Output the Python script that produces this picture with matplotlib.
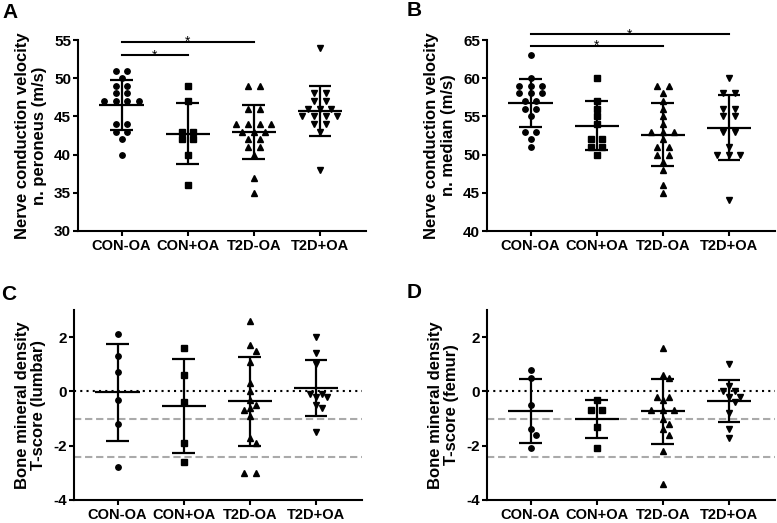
import numpy as np
import matplotlib
matplotlib.use("Agg")
import matplotlib.pyplot as plt

plt.rcParams['font.family'] = ['Liberation Sans', 'DejaVu Sans']
plt.rcParams['font.weight'] = 'bold'
plt.rcParams['axes.unicode_minus'] = False

# Data
groups = ['CON-OA', 'CON+OA', 'T2D-OA', 'T2D+OA']
markers = ['o', 's', '^', 'v']
marker_sizes = [3.9, 3.7, 4.3, 4.3]

# nerve conduction velocity, n. peroneus (m/s)
ncv_peroneus = [
    [51, 51, 50, 49, 49, 48, 48, 47, 47, 47, 47, 44, 44, 43, 43, 42, 40],
    [49, 47, 43, 43, 42, 42, 40, 36],
    [49, 49, 46, 46, 44, 44, 44, 44, 43, 43, 43, 42, 42, 41, 41, 40, 37, 35],
    [54, 48, 48, 47, 47, 46, 46, 46, 45, 45, 45, 45, 44, 44, 43, 38],
]
# nerve conduction velocity, n. median (m/s)
ncv_median = [
    [63, 60, 59, 59, 59, 58, 58, 58, 57, 57, 56, 56, 55, 53, 53, 52, 51],
    [60, 57, 56, 55, 54, 52, 52, 51, 51, 50],
    [59, 59, 58, 57, 56, 55, 54, 53, 53, 53, 52, 51, 51, 50, 50, 49, 48, 46, 45],
    [60, 58, 58, 56, 56, 55, 55, 53, 53, 51, 50, 50, 50, 44],
]
# BMD T-score lumbar
tscore_lumbar = [
    [2.1, 1.3, 0.7, -0.3, -1.2, -2.8],
    [1.6, 0.6, -0.4, -1.9, -2.6],
    [2.6, 1.7, 1.5, 1.1, 0.3, 0.0, -0.3, -0.5, -0.6, -0.7, -0.9, -1.7, -1.9, -3.0, -3.0],
    [2.0, 1.4, 1.0, -0.1, -0.1, -0.2, -0.2, -0.5, -0.6, -1.5],
]
# BMD T-score femur
tscore_femur = [
    [0.8, 0.5, -0.5, -1.4, -1.6, -2.1],
    [-0.3, -0.7, -0.7, -1.3, -2.1],
    [1.6, 0.6, 0.5, -0.2, -0.2, -0.3, -0.7, -0.7, -0.7, -1.0, -1.2, -1.4, -1.6, -2.2, -3.4],
    [1.0, 0.2, 0.0, 0.0, -0.2, -0.2, -0.4, -0.8, -1.4, -1.7],
]

sig_peroneus = [(0, 1), (0, 2)]
sig_median = [(0, 2), (0, 3)]
tscore_refs = [-1.0, -2.4]

fig = plt.figure(figsize=(7.77, 5.23), dpi=100)


def swarm_x(ax, pos, vals, step=0.177, diam=6.0):
    # spread points like a prism scatter: ties side by side, shift rows on overlap
    vals = np.asarray(vals, float)
    xs = np.full(len(vals), float(pos))
    placed = np.empty((0, 2))
    for v in np.unique(vals)[::-1]:
        idx = np.where(vals == v)[0]
        k = len(idx)
        base = (np.arange(k) - (k - 1) / 2) * step
        for n in range(40):
            shift = ((n + 1) // 2) * step / 2 * (1 if n % 2 else -1)
            cand = pos + base + shift
            pix = ax.transData.transform(np.column_stack([cand, np.full(k, v)]))
            if len(placed) == 0:
                break
            d = np.hypot(pix[:, 0, None] - placed[None, :, 0], pix[:, 1, None] - placed[None, :, 1])
            if np.all(d >= diam):
                break
        xs[idx] = cand
        placed = np.vstack([placed, pix])
    return xs


def panel(rect, data, ylim, yticks, ylabel, sig=None, sig_y=None, refs=False):
    ax = fig.add_axes(rect)
    ax.set_xlim(-0.66, 3.7)
    ax.set_ylim(*ylim)
    for s in ['top', 'right']:
        ax.spines[s].set_visible(False)
    for s in ['left', 'bottom']:
        ax.spines[s].set_linewidth(1.5)
    ax.set_yticks(yticks)
    ax.set_xticks(range(len(groups)))
    ax.set_xticklabels(groups, fontsize=10.5, fontweight='bold')
    ax.tick_params(axis='y', labelsize=11, length=3.5, width=1.5, pad=1.5)
    ax.tick_params(axis='x', length=3.5, width=1.5, pad=2)
    ax.set_ylabel(ylabel, fontsize=12, fontweight='bold', labelpad=5, linespacing=1.15)

    if refs:
        ax.axhline(0, color='black', lw=1.5, ls=(0, (1, 2)), zorder=1)
        for r in tscore_refs:
            ax.axhline(r, color='#aaaaaa', lw=1.5, ls=(0, (3.5, 1.8)), zorder=1)

    for i, vals in enumerate(data):
        xs = swarm_x(ax, i, vals)
        ax.plot(xs, vals, ls='none', marker=markers[i], ms=marker_sizes[i],
                color='black', mec='black', zorder=3)
        m = np.mean(vals)
        sd = np.std(vals, ddof=1)
        ax.hlines(m, i - 0.335, i + 0.335, color='black', lw=1.6, zorder=4)
        ax.hlines([m - sd, m + sd], i - 0.17, i + 0.17, color='black', lw=1.6, zorder=4)
        ax.vlines(i, m - sd, m + sd, color='black', lw=1.6, zorder=4)

    if sig:
        for (a, b), h in zip(sig, sig_y):
            ax.plot([a, b], [h, h], color='black', lw=1.5, clip_on=False)
            ax.annotate('*', xy=((a + b) / 2, h), xytext=(0, -3), textcoords='offset points',
                        ha='center', va='baseline', fontsize=10, fontweight='normal',
                        annotation_clip=False)
    return ax


W, H = 777, 523
panel([78 / W, 1 - 231 / H, 288 / W, 191 / H], ncv_peroneus, (30, 55), range(30, 56, 5),
      'Nerve conduction velocity\nn. peroneus (m/s)', sig_peroneus, [53.0, 54.75])
panel([487 / W, 1 - 231 / H, 288 / W, 191 / H], ncv_median, (40, 65), range(40, 66, 5),
      'Nerve conduction velocity\nn. median (m/s)', sig_median, [64.25, 65.75])
panel([74 / W, 1 - 500 / H, 288 / W, 190 / H], tscore_lumbar, (-4, 3), [-4, -2, 0, 2],
      'Bone mineral density\nT-score (lumbar)', refs=True)
panel([487 / W, 1 - 500 / H, 288 / W, 190 / H], tscore_femur, (-4, 3), [-4, -2, 0, 2],
      'Bone mineral density\nT-score (femur)', refs=True)

for letter, (x, y) in zip('ABCD', [(10, 12), (414, 11), (9, 294), (414, 293)]):
    fig.text(x / W, 1 - y / H, letter, ha='center', va='center', fontsize=15, fontweight='bold')

fig.savefig('out.png', dpi=100)
